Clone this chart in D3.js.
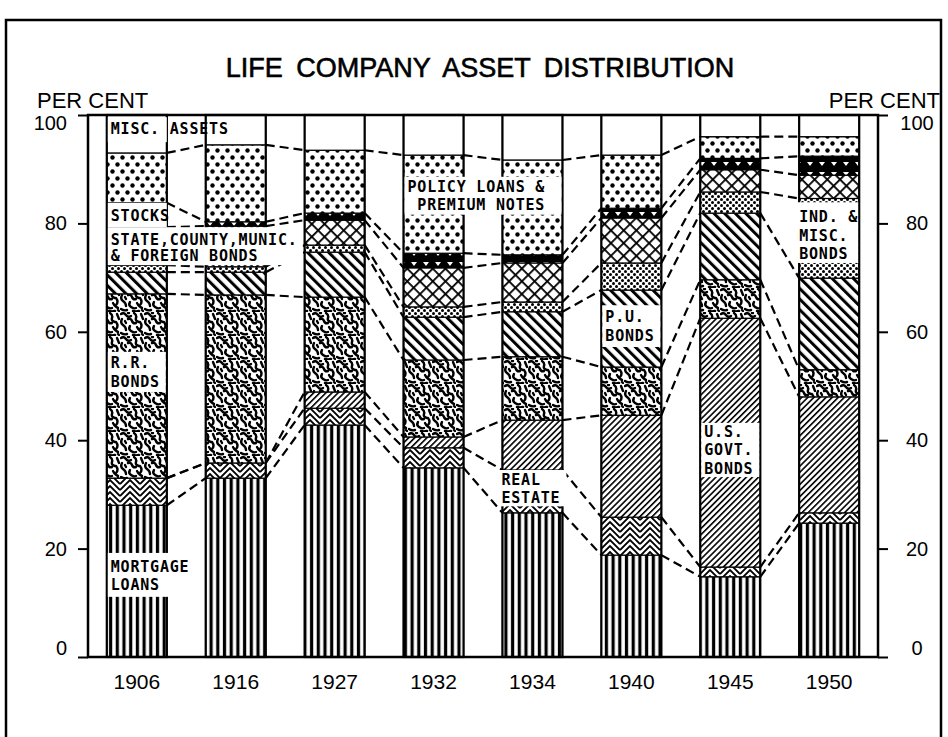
<!DOCTYPE html>
<html>
<head>
<meta charset="utf-8">
<script src="https://cdn.jsdelivr.net/npm/d3@7"></script>
<style>
  html, body { margin: 0; padding: 0; background: #fff; }
  svg { display: block; }
  .ttl { font-family: "Liberation Sans", Arial, sans-serif; }
  .lbl { font-family: "DejaVu Sans Mono", "Liberation Mono", monospace; font-weight: bold; font-size: 15px; letter-spacing: 0.8px; }
  .axis text { font-family: "Liberation Sans", Arial, sans-serif; font-size: 20px; fill: #000; }
  .axis line, .axis path { stroke: #000; stroke-width: 2; }
</style>
</head>
<body>
<svg id="chart" width="948" height="737"></svg>
<script>
// ข้อมูล (% ของสินทรัพย์รวม) อ่านจากภาพ
const years = ["1906", "1916", "1927", "1932", "1934", "1940", "1945", "1950"];
const categories = ["mortgage", "realEstate", "usGovt", "railroad", "publicUtility",
                    "industrial", "stateMunic", "stocks", "policyLoans", "misc"];

const mortgage      = [28.0, 33.0, 42.8, 34.9, 26.6, 18.8, 14.8, 24.7];
const realEstate    = [ 5.0,  2.8,  3.1,  3.7,  7.9,  7.0,  1.8,  1.9];
const usGovt        = [ 0.0,  0.0,  3.0,  2.0,  9.2, 18.8, 45.9, 21.4];
const railroad      = [34.0, 31.0, 17.5, 14.2, 11.7,  8.9,  7.1,  5.0];
const publicUtility = [ 4.0,  4.2,  8.3,  7.9,  8.3, 14.2, 12.3, 16.9];
const industrial    = [ 1.3,  1.0,  1.3,  1.9,  1.8,  5.0,  3.9, 14.7];
const stateMunic    = [ 7.0,  7.5,  4.6,  7.2,  7.2,  8.3,  4.1,  4.3];
const stocks        = [ 4.5,  0.8,  1.3,  2.7,  1.5,  1.8,  2.1,  3.5];
const policyLoans   = [ 9.2, 14.2, 11.6, 18.1, 17.5,  9.8,  4.0,  3.6];
const misc          = [ 7.0,  5.5,  6.5,  7.4,  8.3,  7.4,  4.0,  4.0];

const yTicks = [0, 20, 40, 60, 80, 100];

const series = { mortgage, realEstate, usGovt, railroad, publicUtility,
                 industrial, stateMunic, stocks, policyLoans, misc };
const rows = years.map((yr, i) => {
    const r = { year: yr };
    categories.forEach(k => { r[k] = series[k][i]; });
    return r;
});

// ป้ายข้อความในแท่ง (กล่องขาว)
const labels = [
    { year: "1906", x0: 1,  x1: 60,  top: 99.6, bottom: 95.0, lines: ["MISC. ASSETS"], at: [97.6] },
    { year: "1906", x0: 1,  x1: 60,  top: 83.8, bottom: 79.3, lines: ["STOCKS"], at: [81.5] },
    { year: "1906", x0: 1,  x1: 196, top: 79.3, bottom: 72.3, lines: ["STATE,COUNTY,MUNIC.", "& FOREIGN BONDS"], at: [77.0, 74.0] },
    { year: "1906", x0: 1,  x1: 59,  top: 56.3, bottom: 48.9, lines: ["R.R.", "BONDS"], at: [54.3, 50.8] },
    { year: "1906", x0: 1,  x1: 95,  top: 19.2, bottom: 11.1, lines: ["MORTGAGE", "LOANS"], at: [16.7, 13.3] },
    { year: "1932", x0: 1,  x1: 158, top: 88.6, bottom: 81.6, lines: ["POLICY LOANS &", " PREMIUM NOTES"], at: [86.8, 83.4] },
    { year: "1934", x0: -4, x1: 64,  top: 34.5, bottom: 27.8, lines: ["REAL", "ESTATE"], at: [32.8, 29.4] },
    { year: "1940", x0: 1,  x1: 59,  top: 64.9, bottom: 57.2, lines: ["P.U.", "BONDS"], at: [62.8, 59.4] },
    { year: "1945", x0: 1,  x1: 59,  top: 43.2, bottom: 33.2, lines: ["U.S.", "GOVT.", "BONDS"], at: [41.6, 38.2, 34.8] },
    { year: "1950", x0: -3, x1: 59,  top: 83.9, bottom: 72.7, lines: ["IND. &", "MISC.", "BONDS"], at: [81.3, 77.8, 74.4] }
];

const svg = d3.select("#chart");
const margin = { left: 88, right: 70, top: 115, bottom: 80 };
const W = 948, H = 737;

const x = d3.scaleBand().domain(years)
    .range([margin.left, W - margin.right])
    .paddingInner(0.393).paddingOuter(0.19);
const y = d3.scaleLinear().domain([0, 100]).range([H - margin.bottom, margin.top]);

// ===== ลวดลาย (patterns)
const defs = svg.append("defs");
function pat(id, w, h, transform, bg) {
    const p = defs.append("pattern").attr("id", id)
        .attr("patternUnits", "userSpaceOnUse")
        .attr("width", w).attr("height", h);
    if (transform) p.attr("patternTransform", transform);
    p.append("rect").attr("width", w).attr("height", h).attr("fill", bg || "#fff");
    return p;
}

// เส้นตั้ง: mortgage
pat("p-mort", 6.7, 10).append("rect").attr("x", 1.8).attr("width", 3.2).attr("height", 10).attr("fill", "#000");

// บั้ง: real estate
const pRe = pat("p-re", 20, 6);
[-12, -6, 0, 6, 12].forEach(o => {
    pRe.append("path").attr("d", `M0,${10 + o} L10,${o} L20,${10 + o}`)
        .attr("fill", "none").attr("stroke", "#000").attr("stroke-width", 1.8);
});

// /// ละเอียด: US govt
pat("p-usg", 4.3, 10, "rotate(45)").append("rect").attr("width", 1.6).attr("height", 10).attr("fill", "#000");

// ลายหนอน: railroad
const pRr = pat("p-rr", 24, 24);
["M1,2 Q4,0 6,3 T11,4", "M14,1 Q17,3 16,6 T19,10", "M21,2 L23,7", "M2,7 Q0,11 3,13 T6,18",
 "M8,7 Q11,6 12,9 T16,11", "M20,10 Q23,14 20,17", "M10,14 Q8,17 11,19 T16,20",
 "M17,15 Q19,19 22,20", "M1,21 Q4,23 7,22", "M13,23 Q16,24 19,23", "M5,9 L6,11",
 "M22,22 L23,23", "M8,1 L9,1"].forEach(d => {
    pRr.append("path").attr("d", d).attr("fill", "none").attr("stroke", "#000")
        .attr("stroke-width", 2.4).attr("stroke-linecap", "round");
});

// \\\ หนา: public utility
pat("p-pu", 7.5, 10, "rotate(-45)").append("rect").attr("width", 3).attr("height", 10).attr("fill", "#000");

// จุดเล็ก: industrial
const pInd = pat("p-ind", 6, 6);
[[1.5, 1.5], [4.5, 4.5]].forEach(c => pInd.append("circle").attr("cx", c[0]).attr("cy", c[1]).attr("r", 1.5).attr("fill", "#000"));

// ตาข่าย: state, county, munic.
const pSt = pat("p-state", 9, 9, "rotate(45)");
pSt.append("rect").attr("width", 1.8).attr("height", 9).attr("fill", "#000");
pSt.append("rect").attr("width", 9).attr("height", 1.8).attr("fill", "#000");

// ดำ + สามเหลี่ยมขาว: stocks
pat("p-stocks", 12, 10, null, "#000").append("path").attr("d", "M3,2 L9,2 L6,6 Z").attr("fill", "#fff");

// จุดใหญ่: policy loans
const pPol = pat("p-policy", 10, 14);
[[2.5, 3.5], [7.5, 10.5]].forEach(c => pPol.append("circle").attr("cx", c[0]).attr("cy", c[1]).attr("r", 2.2).attr("fill", "#000"));

const fills = {
    mortgage: "url(#p-mort)", realEstate: "url(#p-re)", usGovt: "url(#p-usg)",
    railroad: "url(#p-rr)", publicUtility: "url(#p-pu)", industrial: "url(#p-ind)",
    stateMunic: "url(#p-state)", stocks: "url(#p-stocks)", policyLoans: "url(#p-policy)",
    misc: "#fff"
};

// ===== แท่งซ้อน
const stacked = d3.stack().keys(categories)(rows);

svg.append("g").selectAll("g").data(stacked).join("g")
    .attr("fill", d => fills[d.key])
    .selectAll("rect").data(d => d).join("rect")
    .attr("x", d => x(d.data.year))
    .attr("y", d => y(d[1]))
    .attr("width", x.bandwidth())
    .attr("height", d => y(d[0]) - y(d[1]))
    .attr("stroke", "#000").attr("stroke-width", 1.2);

// กรอบแท่ง
svg.append("g").selectAll("rect").data(rows).join("rect")
    .attr("x", d => x(d.year))
    .attr("y", d => y(d3.sum(categories, k => d[k])))
    .attr("width", x.bandwidth())
    .attr("height", d => y(0) - y(d3.sum(categories, k => d[k])))
    .attr("fill", "none").attr("stroke", "#000").attr("stroke-width", 2.2);

// ===== เส้นประเชื่อมรอยต่อระหว่างแท่ง
const links = [];
stacked.slice(0, -1).forEach(s => {
    for (let i = 0; i < years.length - 1; i++) {
        links.push({ x1: x(years[i]) + x.bandwidth(), y1: y(s[i][1]), x2: x(years[i + 1]), y2: y(s[i + 1][1]) });
    }
});
svg.append("g").selectAll("line").data(links).join("line")
    .attr("x1", d => d.x1).attr("y1", d => d.y1)
    .attr("x2", d => d.x2).attr("y2", d => d.y2)
    .attr("stroke", "#000").attr("stroke-width", 2.2)
    .attr("stroke-dasharray", "9,5");

// ===== ป้ายข้อความ
const gl = svg.append("g");
labels.forEach(l => {
    const x0 = x(l.year) + l.x0;
    gl.append("rect").attr("x", x0).attr("y", y(l.top))
        .attr("width", l.x1 - l.x0).attr("height", y(l.bottom) - y(l.top))
        .attr("fill", "#fff");
    l.lines.forEach((t, j) => {
        gl.append("text").attr("class", "lbl").attr("x", x0 + 3).attr("y", y(l.at[j]) + 5.5)
            .attr("xml:space", "preserve").text(t);
    });
});

// ===== กรอบพื้นที่กราฟ + แกน
svg.append("rect")
    .attr("x", margin.left).attr("y", y(100))
    .attr("width", W - margin.left - margin.right).attr("height", y(0) - y(100))
    .attr("fill", "none").attr("stroke", "#000").attr("stroke-width", 2.5);

const shift = v => v === 100 ? 8 : (v === 0 ? -9 : 0);

const gLeft = svg.append("g").attr("class", "axis")
    .attr("transform", `translate(${margin.left},0)`)
    .call(d3.axisLeft(y).tickValues(yTicks).tickSize(10).tickSizeOuter(0).tickPadding(11));
gLeft.select(".domain").remove();
gLeft.selectAll("text").attr("dy", v => (shift(v) / 20 + 0.32) + "em");

const gRight = svg.append("g").attr("class", "axis")
    .attr("transform", `translate(${W - margin.right},0)`)
    .call(d3.axisRight(y).tickValues(yTicks).tickSize(10).tickSizeOuter(0));
gRight.select(".domain").remove();
gRight.selectAll("text").attr("x", 39).attr("text-anchor", "middle")
    .attr("dy", v => (shift(v) / 20 + 0.32) + "em");

const gBottom = svg.append("g").attr("class", "axis")
    .attr("transform", `translate(0,${y(0)})`)
    .call(d3.axisBottom(x).tickSize(0).tickPadding(17));
gBottom.select(".domain").remove();
gBottom.selectAll("text").style("font-size", "21px");

// ===== ชื่อกราฟ
svg.append("text").attr("class", "ttl")
    .attr("x", 480).attr("y", 77).attr("text-anchor", "middle")
    .style("font-size", "27px").style("word-spacing", "6px")
    .attr("stroke", "#000").attr("stroke-width", 0.6)
    .text("LIFE COMPANY ASSET DISTRIBUTION");

svg.append("text").attr("class", "ttl").attr("x", 37).attr("y", 108)
    .style("font-size", "22px").text("PER CENT");
svg.append("text").attr("class", "ttl").attr("x", 940).attr("y", 108)
    .attr("text-anchor", "end").style("font-size", "22px").text("PER CENT");

// กรอบนอกของหน้า
svg.append("rect").attr("x", 6).attr("y", 20).attr("width", 935).attr("height", 740)
    .attr("fill", "none").attr("stroke", "#000").attr("stroke-width", 2.5);
</script>
</body>
</html>
